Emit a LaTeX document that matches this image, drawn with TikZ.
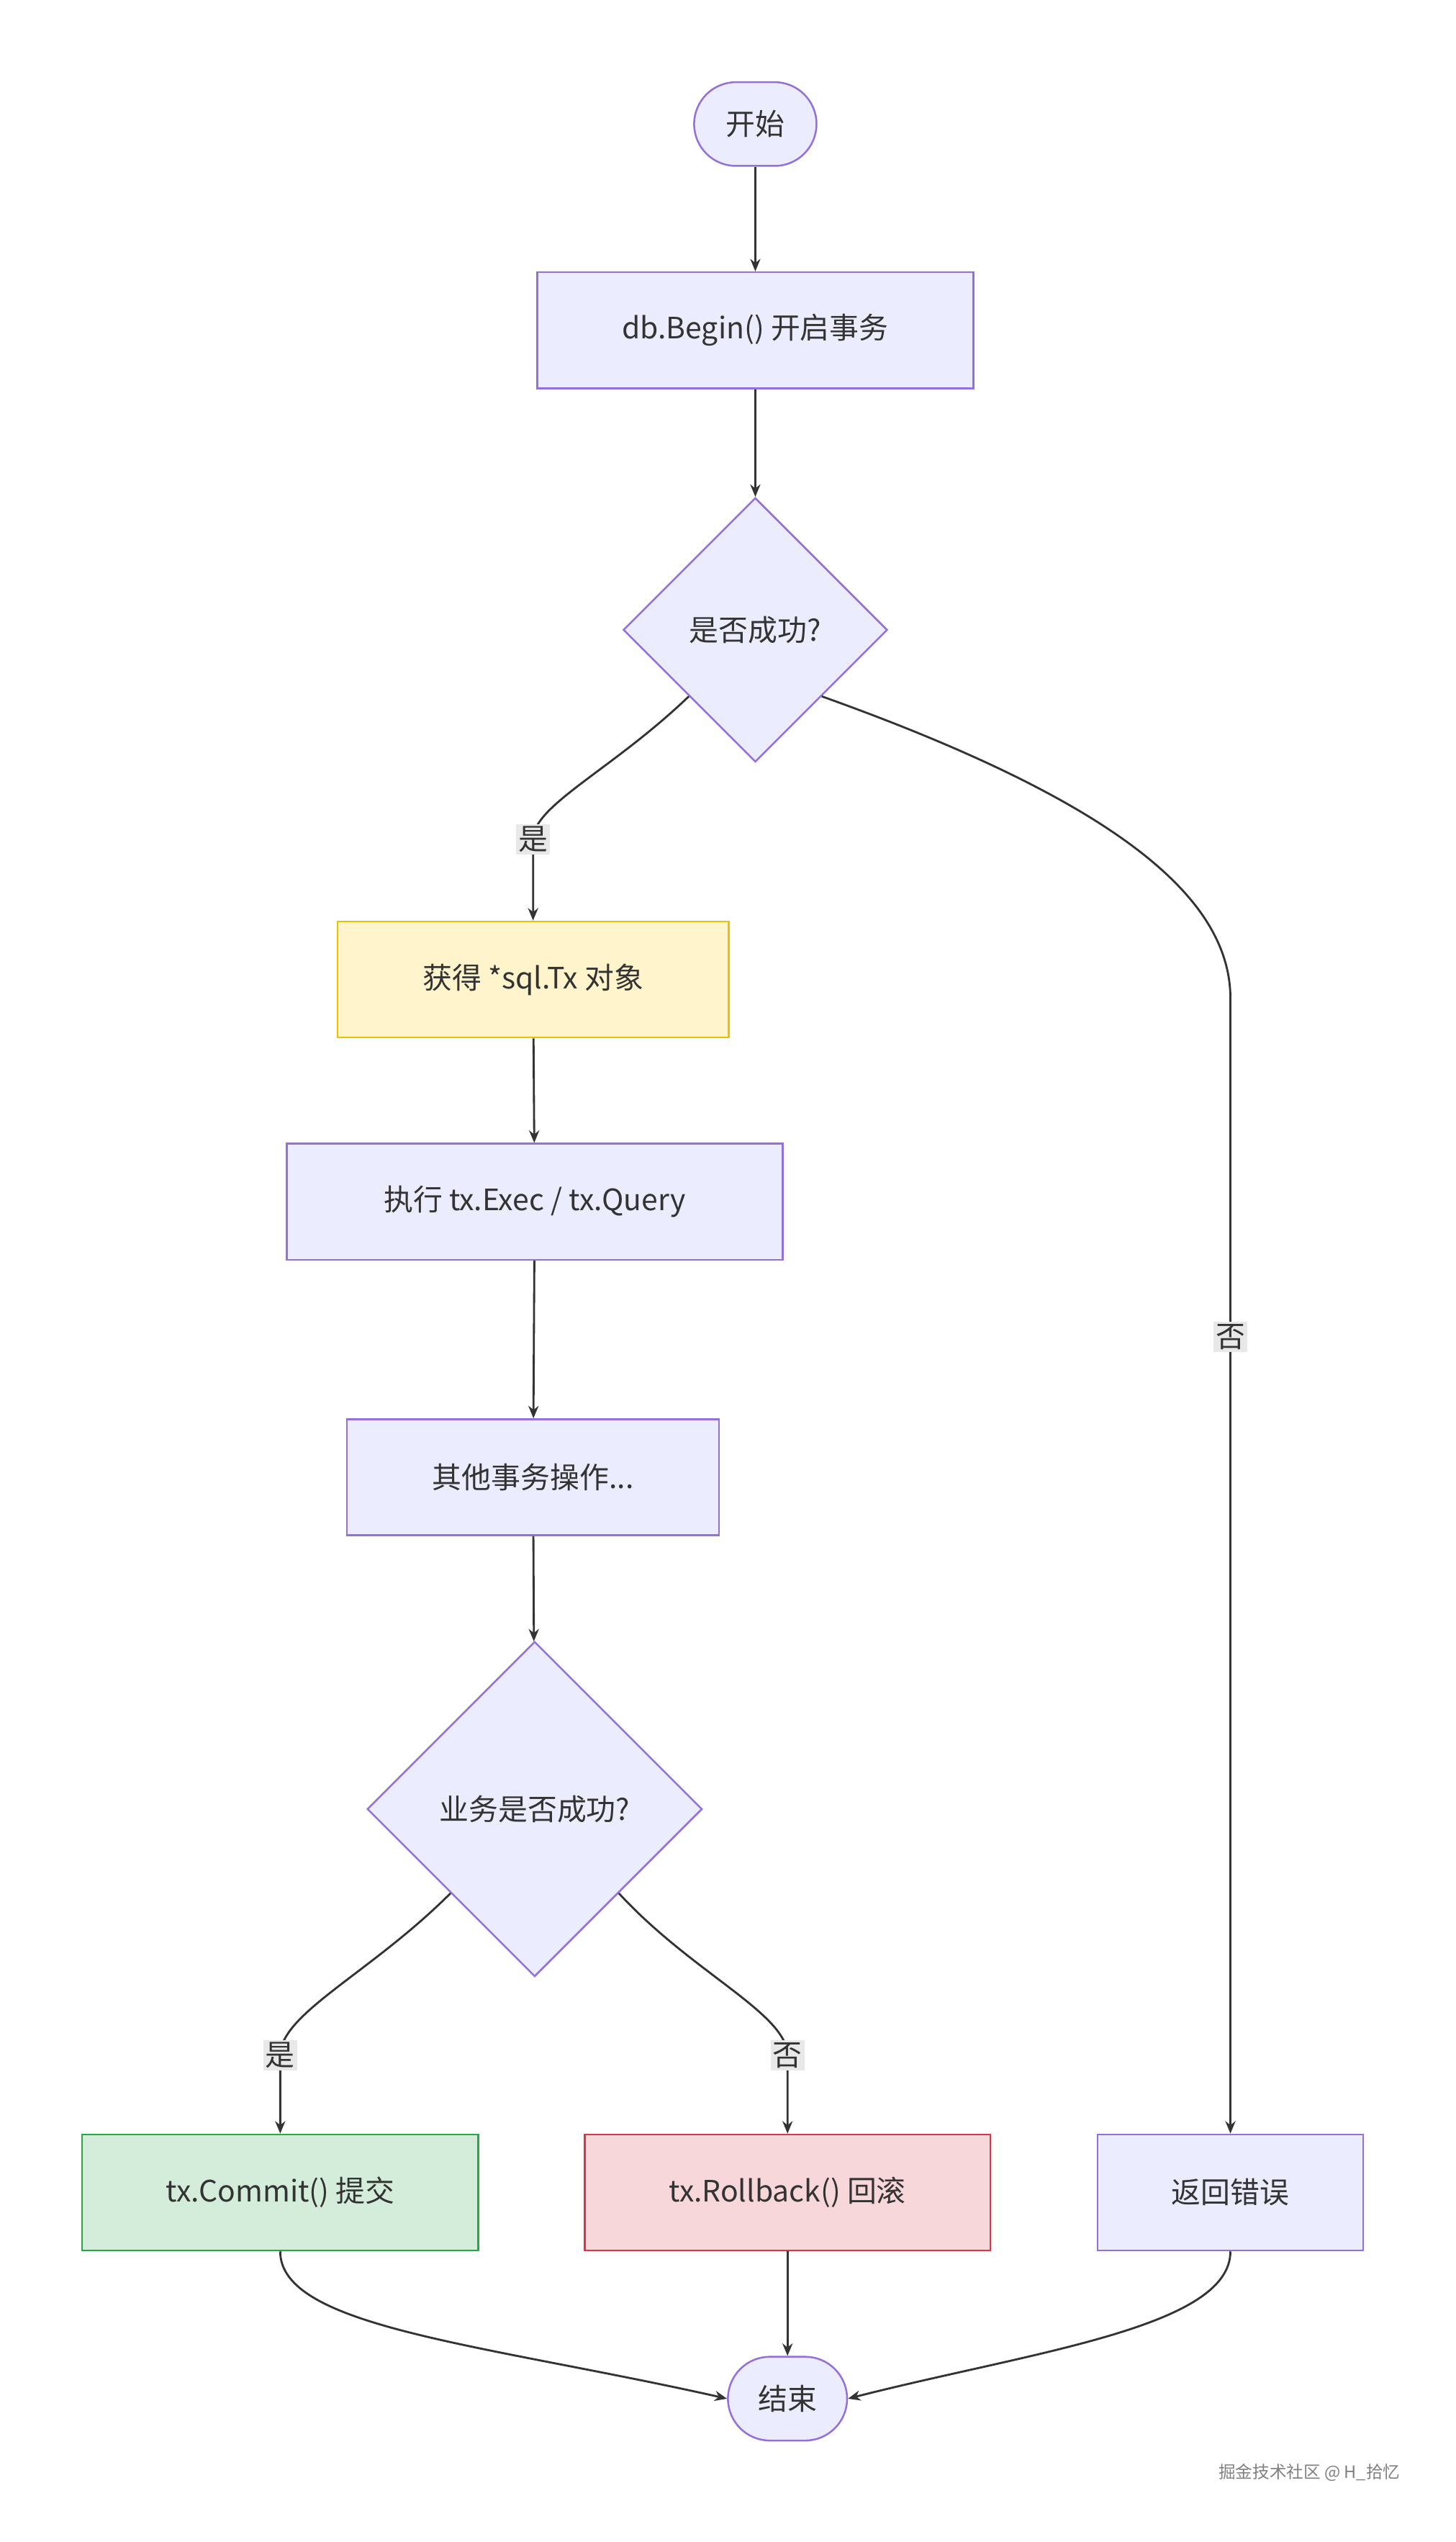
\documentclass[tikz,border=0pt]{standalone}
\usepackage{fontspec}
\setmainfont{Noto Sans CJK SC}
\usetikzlibrary{shapes.geometric,arrows.meta}
\definecolor{nodefill}{HTML}{ECECFF}
\definecolor{nodeline}{HTML}{9370DB}
\definecolor{txt}{HTML}{333333}
\definecolor{lblbg}{HTML}{E8E8E8}
\begin{document}
\begin{tikzpicture}[x=0.05cm, y=-0.05cm, >={Stealth[length=11pt,width=9pt]},
  every node/.style={text=txt, font=\fontsize{26}{30}\selectfont},
  box/.style={draw=nodeline, fill=nodefill, line width=1.6pt, minimum height=3.6cm, inner sep=0pt},
  term/.style={box, rounded corners=1.3cm, minimum height=2.6cm},
  choice/.style={box, diamond, aspect=1, inner sep=0pt},
  flow/.style={draw=txt, line width=1.8pt, ->},
  lbl/.style={fill=lblbg, inner sep=2pt}]

\useasboundingbox (0,0) rectangle (904,1578);

% nodes
\node [term, minimum width=3.8cm] (start) at (469,77) {开始};
\node [box, minimum width=13.55cm] (begin) at (469,205) {db.Begin() 开启事务};
\node [choice, minimum size=8.2cm] (ok) at (469,391) {是否成功?};
\node [box, minimum width=12.15cm, fill={rgb,255:red,255;green,244;blue,204}, draw={rgb,255:red,230;green,194;blue,0}] (gettx) at (331,608) {获得 *sql.Tx 对象};
\node [box, minimum width=15.4cm] (exec) at (332,746) {执行 tx.Exec / tx.Query};
\node [box, minimum width=11.55cm] (other) at (331,917) {其他事务操作...};
\node [choice, minimum size=10.4cm] (bizok) at (332,1123) {业务是否成功?};
\node [box, minimum width=12.3cm, fill={rgb,255:red,212;green,237;blue,218}, draw={rgb,255:red,40;green,167;blue,69}] (commit) at (174,1361) {tx.Commit() 提交};
\node [box, minimum width=12.6cm, fill={rgb,255:red,248;green,215;blue,218}, draw={rgb,255:red,220;green,53;blue,69}] (rollback) at (489,1361) {tx.Rollback() 回滚};
\node [box, minimum width=8.25cm] (err) at (764,1361) {返回错误};
\node [term, minimum width=3.7cm] (finish) at (489,1489) {结束};

% edge labels
\coordinate (c1) at (331,521);
\coordinate (c2) at (764,830);
\coordinate (c3) at (174,1276);
\coordinate (c4) at (489,1276);

% connectors
\draw [flow] (start) -- (begin);
\draw [flow] (begin) -- (ok);
\draw [flow] (ok.south west) .. controls (380,478) and (331,500) .. (c1) -- (gettx);
\draw [flow] (ok.south east) .. controls (700,500) and (764,560) .. (764,620) -- (err);
\draw [flow] (gettx) -- (exec);
\draw [flow] (exec) -- (other);
\draw [flow] (other) -- (bizok);
\draw [flow] (bizok.south west) .. controls (230,1225) and (174,1250) .. (c3) -- (commit);
\draw [flow] (bizok.south east) .. controls (430,1225) and (489,1250) .. (c4) -- (rollback);
\draw [flow] (commit.south) .. controls (174,1445) and (300,1455) .. (finish.west);
\draw [flow] (rollback) -- (finish);
\draw [flow] (err.south) .. controls (764,1445) and (640,1460) .. (finish.east);

\node [lbl] at (c1) {是};
\node [lbl] at (c2) {否};
\node [lbl] at (c3) {是};
\node [lbl] at (c4) {否};

\node [text=gray, font=\fontsize{15}{17}\selectfont] (mark) at (813,1535) {掘金技术社区 @ H\_拾忆};
\end{tikzpicture}
\end{document}
